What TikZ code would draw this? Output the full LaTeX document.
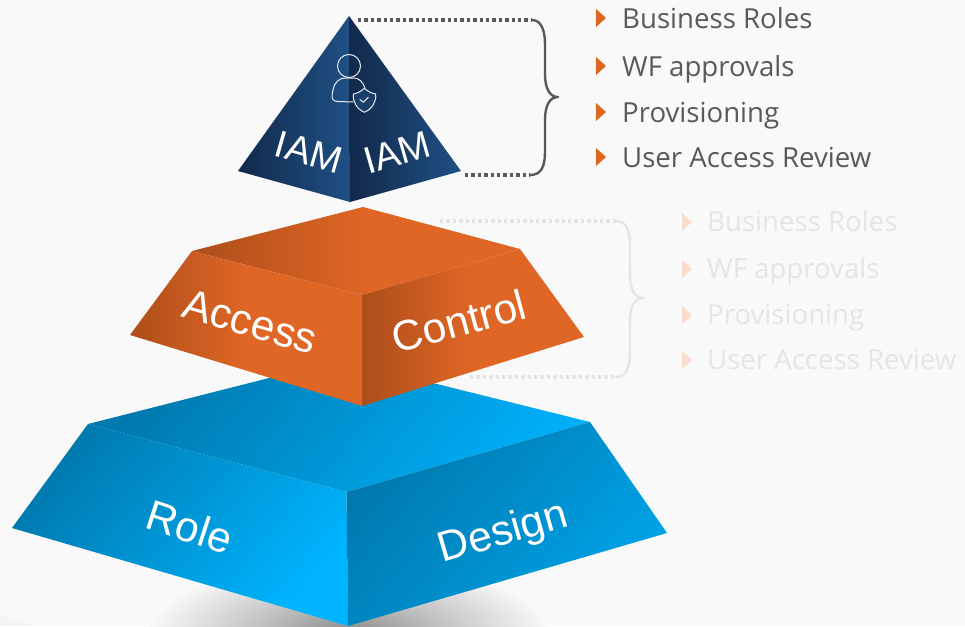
\documentclass[tikz,border=0pt]{standalone}
\usepackage{fontspec}
\setmainfont{Liberation Sans}
\newfontfamily\listfont{Open Sans}
\usetikzlibrary{calc}
\definecolor{bgc}{HTML}{F9F9F9}
\definecolor{navyD}{HTML}{12294A}
\definecolor{navyL}{HTML}{1F5085}
\definecolor{orgD}{HTML}{AD4E1A}
\definecolor{orgL}{HTML}{E06626}
\definecolor{bluD}{HTML}{0079AE}
\definecolor{bluM}{HTML}{0098DA}
\definecolor{bluL}{HTML}{00B4FF}
\definecolor{txtc}{HTML}{595959}
\definecolor{fadec}{HTML}{E5E5E5}
\definecolor{bulc}{HTML}{E0651F}
\definecolor{bulf}{HTML}{FADCCD}
\definecolor{shadowA}{HTML}{8C8C8C}
\definecolor{shadowB}{HTML}{C4C4C4}
\pgfdeclarehorizontalshading{orgfast}{100bp}{color(0bp)=(orgD); color(25bp)=(orgD); color(50bp)=(orgL); color(100bp)=(orgL)}
\pgfdeclarehorizontalshading{orgtop}{100bp}{color(0bp)=(orgD); color(25bp)=(orgD); color(52bp)=(orgL); color(100bp)=(orgL)}
\pgfdeclareradialshading{softshadow}{\pgfpoint{0bp}{0bp}}{color(0bp)=(shadowA); color(12bp)=(shadowB); color(25bp)=(bgc); color(50bp)=(bgc)}
\tikzset{
  x=1pt,y=-1pt,
  face/.style={draw=none},
  navyface/.style={face,left color=navyD,right color=navyL},
  lab/.style={text=white,inner sep=0pt,font=\fontsize{42.5}{48}\selectfont},
  smalllab/.style={text=white,inner sep=0pt,font=\fontsize{38}{42}\selectfont},
  item/.style={anchor=base west,inner sep=0pt,text=txtc,font=\listfont\fontsize{27.6}{32}\selectfont},
  fadeitem/.style={item,text=fadec},
  dotline/.style={line width=3.2pt,dash pattern=on 3.4pt off 3pt},
  curly/.style={line width=2.4pt,line cap=round,line join=round},
  iconline/.style={draw=white!88!navyL,line width=1pt,line join=round,line cap=round},
}
\begin{document}
\begin{tikzpicture}
\useasboundingbox (0,0) rectangle (965,626);
\fill[bgc] (0,0) rectangle (965,626);
\begin{scope}
\clip (0,0) rectangle (965,626);
% faint dot texture
\foreach \r in {0,...,14}{
  \foreach \c in {0,...,19}{
    \pgfmathsetmacro{\px}{400+\c*29+mod(\r,2)*14}
    \pgfmathsetmacro{\py}{205+\r*30}
    \fill[white!93!gray] (\px,\py) circle (1.3);
  }
}
\fill[white!91!gray] (0,615) -- (35,626) -- (0,626) -- cycle;
\shade[shading=softshadow] (349,632) ellipse (200 and 72);
\end{scope}

% corner coordinates
\coordinate (baseApex) at (340,360);
\coordinate (baseTL) at (88,424);
\coordinate (baseTR) at (590,422);
\coordinate (baseC) at (346.5,492);
\coordinate (baseL) at (12,528);
\coordinate (baseR) at (667,533);
\coordinate (baseB) at (348,626);
\coordinate (midApex) at (363,207);
\coordinate (midTL) at (192,251);
\coordinate (midTR) at (520,249);
\coordinate (midC) at (362,295);
\coordinate (midL) at (130,335);
\coordinate (midR) at (584,337);
\coordinate (midB) at (362,406);
\coordinate (topA) at (349,16);
\coordinate (topL) at (238,171);
\coordinate (topR) at (461,171);
\coordinate (topB) at (350,202);

% blue base
\shade[face,left color=bluD,right color=bluL!80!bluM,shading angle=50] (baseApex) -- (baseTR) -- (baseC) -- (baseTL) -- cycle;
\shade[face,left color=bluD,right color=bluL,shading angle=50] (baseTL) -- (baseC) -- (baseB) -- (baseL) -- cycle;
\shade[face,left color=bluD,right color=bluM!60!bluL,shading angle=50] (baseC) -- (baseTR) -- (baseR) -- (baseB) -- cycle;
\node[lab,rotate=-18] (role) at (190,527) {Role};
\node[lab,rotate=16] (design) at (503.5,534) {Design};

% faded brace
\coordinate (b2a) at (440,221);
\coordinate (b2b) at (616,221);
\coordinate (b2c) at (470,377);
\coordinate (b2d) at (616,377);
\coordinate (b2t) at (644,298);
\draw[dotline,fadec] (b2a) -- (b2b);
\draw[dotline,fadec] (b2c) -- (b2d);
\draw[curly,fadec] (b2b) .. controls (626,221) and (630,230) .. (630,245)
  -- (630,275) .. controls (630,290) and (635,298) .. (b2t)
  .. controls (635,298) and (630,306) .. (630,320) -- (630,352)
  .. controls (630,368) and (626,377) .. (b2d);

% orange
\shade[face,shading=orgtop] (midApex) -- (midTR) -- (midC) -- (midTL) -- cycle;
\shade[face,shading=orgfast] (midTL) -- (midC) -- (midB) -- (midL) -- cycle;
\shade[face,shading=orgfast] (midC) -- (midTR) -- (midR) -- (midB) -- cycle;
\node[lab,rotate=-16] (access) at (250,322) {Access};
\node[lab,rotate=15] (control) at (459,321) {Control};

% navy pyramid
\shade[navyface] (topA) -- (topB) -- (topL) -- cycle;
\shade[navyface] (topA) -- (topR) -- (topB) -- cycle;
\node[smalllab,rotate=16] (iamR) at (397,153) {IAM};
\node[smalllab,rotate=-16] (iamL) at (309,152) {IAM};

% icon
\draw[iconline] (349,66) circle (11.5);
\draw[iconline] (353,102) -- (338,101.5) .. controls (333.5,101.5) and (331.5,99) .. (332,95)
  -- (333,90) .. controls (334,83) and (339,78) .. (345,78) -- (354,78)
  .. controls (359,78) and (363,82) .. (365,88);
\draw[iconline,fill=navyD!45!navyL] (364.3,88.3) .. controls (368,91.5) and (372,93.5) .. (375.7,94)
  .. controls (376.5,102) and (372,109) .. (364.3,112.3)
  .. controls (357,109) and (352.5,102) .. (353.3,94)
  .. controls (357,93.5) and (361,91.5) .. cycle;
\draw[iconline] (360,99.5) -- (363.3,102.3) -- (368.3,97.3);

% main brace
\coordinate (b1a) at (358,20);
\coordinate (b1b) at (532,20);
\coordinate (b1c) at (465,175);
\coordinate (b1d) at (530,175);
\coordinate (b1t) at (558,97);
\draw[dotline,txtc] (b1a) -- (b1b);
\draw[dotline,txtc] (b1c) -- (b1d);
\draw[curly,txtc] (b1b) .. controls (541,20) and (545,30) .. (545,44)
  -- (545,74) .. controls (545,89) and (550,97) .. (b1t)
  .. controls (550,97) and (545,105) .. (545,120) -- (545,152)
  .. controls (545,167) and (541,175) .. (b1d);

% lists
\foreach \n/\yy/\bl/\t in {a/18/28.5/Business Roles,b/66/76/WF approvals,c/112/122/Provisioning,d/157/167/User Access Review}{
  \fill[bulc] (596,\yy-9) -- (606,\yy) -- (596,\yy+9) -- cycle;
  \node[item] (list\n) at (622,\bl) {\t};
}
\foreach \n/\yy/\bl/\t in {a/222/231/Business Roles,b/269/278/WF approvals,c/315/324/Provisioning,d/360/369/User Access Review}{
  \fill[bulf] (682,\yy-9) -- (692,\yy) -- (682,\yy+9) -- cycle;
  \node[fadeitem] (fade\n) at (707,\bl) {\t};
}
\end{tikzpicture}
\end{document}
